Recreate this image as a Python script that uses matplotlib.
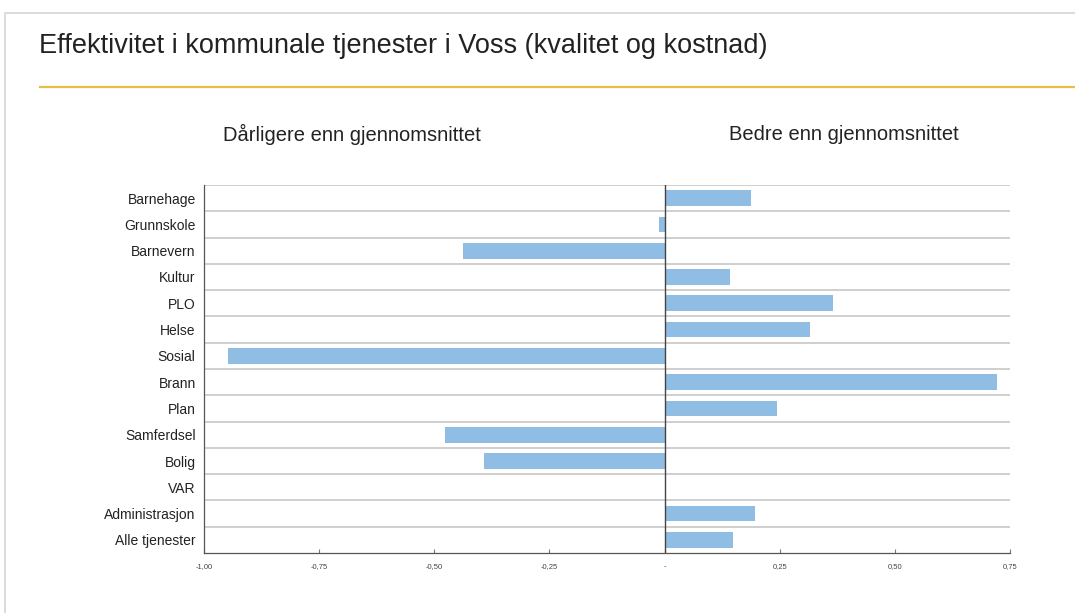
import matplotlib
matplotlib.use("Agg")
import matplotlib.pyplot as plt
from matplotlib.patches import Rectangle
from matplotlib.lines import Line2D

categories = ["Barnehage", "Grunnskole", "Barnevern", "Kultur", "PLO", "Helse",
              "Sosial", "Brann", "Plan", "Samferdsel", "Bolig", "VAR",
              "Administrasjon", "Alle tjenester"]
values = [0.187, -0.013, -0.438, 0.142, 0.366, 0.316, -0.948, 0.722, 0.244,
          -0.477, -0.392, 0.0, 0.196, 0.148]
tick_values = [-1.0, -0.75, -0.5, -0.25, 0.0, 0.25, 0.5, 0.75]
tick_labels = ["-1,00", "-0,75", "-0,50", "-0,25", "-", "0,25", "0,50", "0,75"]

title = "Effektivitet i kommunale tjenester i Voss (kvalitet og kostnad)"
left_label = "Dårligere enn gjennomsnittet"
right_label = "Bedre enn gjennomsnittet"

W, H = 1075, 613
plt.rcParams['font.family'] = ['Liberation Sans', 'DejaVu Sans']
fig = plt.figure(figsize=(W / 100, H / 100), dpi=100)
fig.patch.set_facecolor("white")

def fx(px):
    return px / W

def fy(py):
    return 1 - py / H

# panel frame
fig.add_artist(Rectangle((fx(5), fy(700)), fx(1200), fy(13) - fy(700),
                         transform=fig.transFigure, fill=False,
                         edgecolor="#d6d6d6", lw=1.2))
# gold rule
fig.add_artist(Line2D([fx(40), fx(1075)], [fy(87), fy(87)],
                      transform=fig.transFigure, color="#e6c046", lw=1.6))

fig.text(fx(39), fy(46), title, fontsize=19.5, color="#222222",
         ha="left", va="center")
fig.text(fx(352), fy(134), left_label, fontsize=14.5, color="#222222",
         ha="center", va="center")
fig.text(fx(844), fy(134), right_label, fontsize=14.5, color="#222222",
         ha="center", va="center")

ax = fig.add_axes([fx(204), fy(553), fx(1010) - fx(204), fy(185) - fy(553)])
y = list(range(len(categories)))
ax.barh(y, values, height=0.6, color="#8fbde3", zorder=3)
ax.set_xlim(-1.0, 0.75)
ax.set_ylim(len(categories) - 0.5, -0.5)

for k in range(len(categories)):
    ax.axhline(k - 0.5, color="#cfcfcf", lw=1.4, zorder=1)
ax.axvline(0, color="#444444", lw=1.0, zorder=4)

ax.set_yticks(y)
ax.set_yticklabels(categories, fontsize=10, color="#222222")
ax.tick_params(axis="y", length=0, pad=6)
ax.set_xticks(tick_values)
ax.set_xticklabels(tick_labels, fontsize=5.5, color="#444444")
ax.tick_params(axis="x", direction="in", length=3, width=0.8,
               color="#777777", pad=7)

for s in ["top", "right"]:
    ax.spines[s].set_visible(False)
ax.spines["left"].set_color("#555555")
ax.spines["left"].set_linewidth(0.9)
ax.spines["bottom"].set_color("#555555")
ax.spines["bottom"].set_linewidth(0.9)
ax.set_facecolor("white")

fig.savefig("out.png", dpi=100)
